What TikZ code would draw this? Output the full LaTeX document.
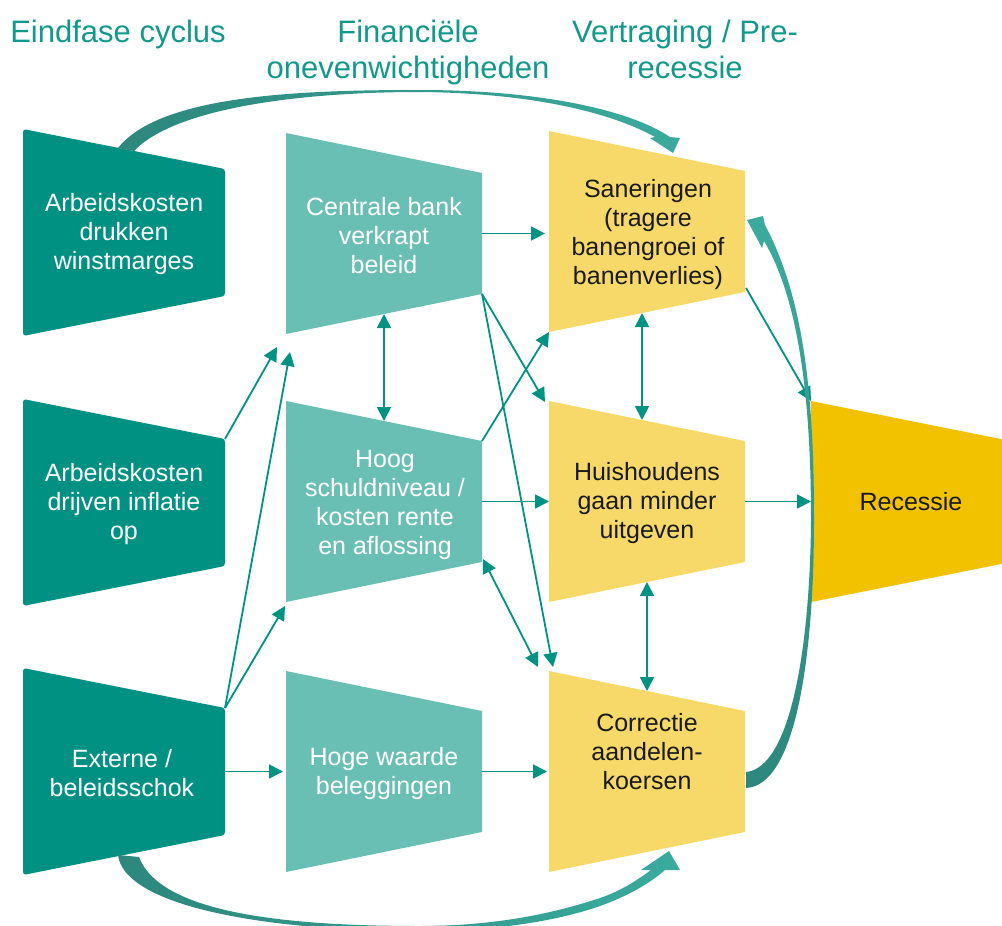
\documentclass[tikz,border=0pt]{standalone}
\usepackage{fontspec}
\setmainfont{Liberation Sans}
\usetikzlibrary{arrows.meta,calc}

\definecolor{cycleteal}{RGB}{0,145,130}
\definecolor{finteal}{RGB}{106,191,181}
\definecolor{slowyellow}{RGB}{247,217,106}
\definecolor{recgold}{RGB}{242,194,0}
\definecolor{linkteal}{RGB}{0,146,130}
\definecolor{headteal}{RGB}{17,153,138}
\definecolor{sweepdark}{RGB}{45,135,124}
\definecolor{sweeplight}{RGB}{58,171,158}
\definecolor{inkdark}{RGB}{26,26,26}

% Funnel-shaped box: #1 name, #2 left x, #3 right x, #4 top-left y,
% #5 height of the left side, #6 fill style.
% The top and bottom edges both slant inwards by 40 units.
\newcommand\funnelbox[6]{%
  \path[#6] (#2,#4) -- (#3,#4+40) -- (#3,#4+#5-40) -- (#2,#4+#5) -- cycle;
  \coordinate (#1-tl) at (#2,#4);
  \coordinate (#1-tr) at (#3,#4+40);
  \coordinate (#1-br) at (#3,#4+#5-40);
  \coordinate (#1-bl) at (#2,#4+#5);
  \coordinate (#1-l)  at (#2,#4+#5/2);
  \coordinate (#1-r)  at (#3,#4+#5/2);
  \coordinate (#1-c)  at ({(#2+#3)/2},#4+#5/2+2);
  \coordinate (#1-t)  at ({(#2+#3)/2},#4+20);
  \coordinate (#1-b)  at ({(#2+#3)/2},#4+#5-20);
}

\begin{document}
\begin{tikzpicture}[x=1pt,y=-1pt,
  boxtext/.style={align=center,inner sep=0pt,font=\fontsize{25}{29}\selectfont},
  lighttext/.style={boxtext,text=white},
  darktext/.style={boxtext,text=inkdark},
  header/.style={align=center,inner sep=0pt,text=headteal,font=\fontsize{31}{36}\selectfont},
  link/.style={draw=linkteal,line width=1.8pt,-{Triangle[length=14pt,width=14pt]}},
  twoway/.style={link,{Triangle[length=14pt,width=14pt]}-{Triangle[length=14pt,width=14pt]}},
  cyclebox/.style={fill=cycleteal,rounded corners=3pt},
  finbox/.style={fill=finteal},
  slowbox/.style={fill=slowyellow},
  recbox/.style={fill=recgold},
]
\useasboundingbox (0,0) rectangle (1002,926);
\clip (0,0) rectangle (1002,926);

% column headings
\node[header,anchor=base] (h1) at (118,42) {Eindfase cyclus};
\node[header] (h2) at (408,52) {Financiële\\onevenwichtigheden};
\node[header] (h3) at (685,49) {Vertraging / Pre-\\recessie};

% boxes
\funnelbox{a1}{23}{225}{129}{207}{cyclebox}
\funnelbox{a2}{23}{225}{399}{207}{cyclebox}
\funnelbox{a3}{23}{225}{668}{207}{cyclebox}
\funnelbox{b1}{286}{482}{133}{201}{finbox}
\funnelbox{b2}{286}{482}{401}{201}{finbox}
\funnelbox{b3}{286}{482}{671}{201}{finbox}
\funnelbox{c1}{549}{745}{131}{201}{slowbox}
\funnelbox{c2}{549}{745}{401}{201}{slowbox}
\funnelbox{c3}{549}{745}{671}{201}{slowbox}
\funnelbox{d}{811}{1011}{401}{201}{recbox}

% box labels
\node[lighttext] (ta1) at (a1-c) {Arbeidskosten\\drukken\\winstmarges};
\node[lighttext] (ta2) at (a2-c) {Arbeidskosten\\drijven inflatie\\op};
\node[lighttext] (ta3) at ($(a3-c)+(-2,0)$) {Externe /\\beleidsschok};
\node[lighttext] (tb1) at (b1-c) {Centrale bank\\verkrapt\\beleid};
\node[lighttext] (tb2) at ($(b2-c)+(1,1)$) {Hoog\\schuldniveau /\\kosten rente\\en aflossing};
\node[lighttext] (tb3) at (b3-c) {Hoge waarde\\beleggingen};
\node[darktext] (tc1) at ($(c1-c)+(1,1)$) {Saneringen\\(tragere\\banengroei of\\banenverlies)};
\node[darktext] (tc2) at (c2-c) {Huishoudens\\gaan minder\\uitgeven};
\node[darktext] (tc3) at ($(c3-c)+(0,-22)$) {Correctie\\aandelen-\\koersen};
\node[darktext] (td) at ($(d-c)+(0,-2)$) {Recessie};

% straight links
\draw[link] (a2-tr) -- ($(b1-bl)+(-9,13)$);
\draw[link] (a3-tr) -- ($(b1-bl)+(4,18)$);
\draw[link] (a3-tr) -- ($(b2-bl)+(-1,4)$);
\draw[link,shorten >=3pt] (a3-r) -- (a3-r -| b3-l);
\draw[link,shorten >=2pt] (b3-r) -- (b3-r -| c3-l);
\draw[link,shorten >=4pt] (b1-r) -- (b1-r -| c1-l);
\draw[link] (b2-r) -- (b2-r -| c2-l);
\draw[link] (c2-r) -- (c2-r -| d-l);
\draw[link] ($(c1-br)+(1,-4)$) -- (d-tl);
\draw[link] (b1-br) -- ($(c2-tl)+(-4,1)$);
\draw[link] (b1-br) -- ($(c3-tl)+(4,-4)$);
\draw[link] (b2-tr) -- (c1-bl);
\draw[twoway] ($(b2-br)+(1,-3)$) -- ($(c3-tl)+(-11,-4)$);
\draw[twoway] (b1-b) -- (b2-t);
\draw[twoway] ($(c1-b)+(-5,1)$) -- ($(c2-t)+(-5,-1)$);
\draw[twoway] (c2-b) -- (c2-b |- c3-t);

% sweeping arrows
\shade[left color=sweepdark,right color=sweeplight]
  (118,148) .. controls (160,95) and (300,90) .. (420,90)
  .. controls (540,90) and (630,110) .. (670,137)
  -- (680,138) -- (673,153) -- (650,138) -- (655,137)
  .. controls (610,112) and (530,93) .. (420,92)
  .. controls (300,92) and (175,108) .. (134,151) -- cycle;

\shade[left color=sweepdark,right color=sweeplight]
  (118,855) .. controls (124,905) and (260,931) .. (420,931)
  .. controls (500,931) and (560,920) .. (600,906)
  .. controls (625,897) and (648,885) .. (665,870)
  -- (680,870) -- (669,851) -- (641,870) -- (651,870)
  .. controls (635,882) and (618,892) .. (600,898)
  .. controls (540,918) and (480,926) .. (420,926)
  .. controls (280,926) and (160,912) .. (139,857) -- cycle;

\shade[top color=sweeplight,bottom color=sweepdark]
  (746,788) .. controls (795,786) and (814,660) .. (814,520)
  .. controls (814,400) and (805,300) .. (765,225)
  -- (763,216) -- (747,220) -- (762,248) -- (764,241)
  .. controls (799,300) and (811,400) .. (811,520)
  .. controls (810,650) and (790,768) .. (746,772) -- cycle;
\end{tikzpicture}
\end{document}
